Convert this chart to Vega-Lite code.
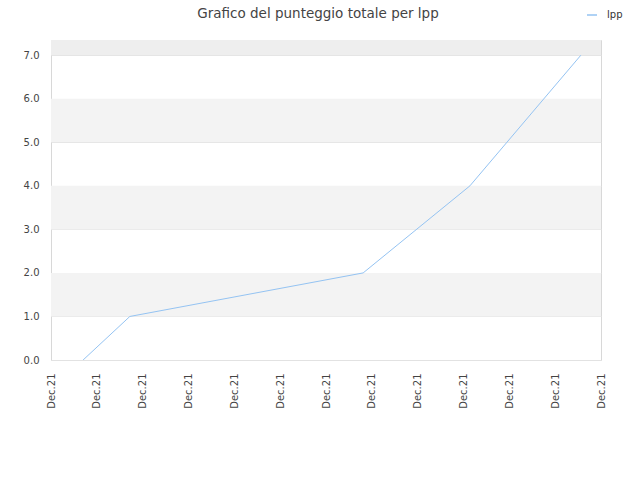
{
  "$schema": "https://vega.github.io/schema/vega-lite/v6.json",
  "autosize": "none",
  "width": 550,
  "height": 320,
  "padding": {"left": 51, "top": 40, "right": 39, "bottom": 120},
  "background": "#ffffff",
  "title": {
    "text": "Grafico del punteggio totale per lpp",
    "font": "DejaVu Sans",
    "fontSize": 13.5,
    "fontWeight": "normal",
    "color": "#444444",
    "anchor": "middle",
    "dx": -8,
    "offset": 0,
    "dy": 11
  },
  "datasets": {
    "bands": [
      {"lo": 1, "hi": 2, "shade": "a"},
      {"lo": 3, "hi": 4, "shade": "a"},
      {"lo": 5, "hi": 6, "shade": "a"},
      {"lo": 7, "hi": 7.35, "shade": "b"}
    ],
    "scores": [
      {"t": 0.7, "punti": 0, "serie": "lpp"},
      {"t": 1.72, "punti": 1, "serie": "lpp"},
      {"t": 6.81, "punti": 2, "serie": "lpp"},
      {"t": 9.14, "punti": 4, "serie": "lpp"},
      {"t": 11.56, "punti": 7, "serie": "lpp"}
    ]
  },
  "layer": [
    {
      "data": {"name": "bands"},
      "mark": {"type": "rect", "clip": true},
      "encoding": {
        "y": {"field": "lo", "type": "quantitative", "scale": {"domain": [0, 7.35], "nice": false}},
        "y2": {"field": "hi"},
        "color": {
          "field": "shade",
          "type": "nominal",
          "scale": {"domain": ["a", "b"], "range": ["#f3f3f3", "#eeeeee"]},
          "legend": null
        }
      }
    },
    {
      "data": {"name": "scores"},
      "mark": {"type": "line", "strokeWidth": 1, "clip": true},
      "encoding": {
        "x": {
          "field": "t",
          "type": "quantitative",
          "scale": {"domain": [0, 12], "nice": false},
          "title": null,
          "axis": {
            "values": [0, 1, 2, 3, 4, 5, 6, 7, 8, 9, 10, 11, 12],
            "labelExpr": "'Dec.21'",
            "labelAngle": -90,
            "labelAlign": "right",
            "labelBaseline": "middle",
            "labelPadding": 13,
            "labelFont": "DejaVu Sans",
            "labelFontSize": 10,
            "labelColor": "#444444",
            "ticks": false,
            "domain": false,
            "grid": false,
            "labelOverlap": false
          }
        },
        "y": {
          "field": "punti",
          "type": "quantitative",
          "scale": {"domain": [0, 7.35], "nice": false},
          "title": null,
          "axis": {
            "values": [0, 1, 2, 3, 4, 5, 6, 7],
            "format": ".1f",
            "labelPadding": 12,
            "labelFont": "DejaVu Sans",
            "labelFontSize": 10,
            "labelColor": "#444444",
            "ticks": false,
            "domain": false,
            "grid": true,
            "gridColor": "#e2e2e2",
            "gridOpacity": 1
          }
        },
        "stroke": {
          "field": "serie",
          "type": "nominal",
          "scale": {"range": ["#94c3f2"]},
          "legend": {
            "title": null,
            "orient": "none",
            "legendX": 535,
            "legendY": -31,
            "symbolType": "stroke",
            "symbolSize": 100,
            "symbolStrokeWidth": 1.5,
            "labelOffset": 9,
            "labelFont": "DejaVu Sans",
            "labelFontSize": 10,
            "labelColor": "#333333"
          }
        }
      }
    }
  ],
  "config": {
    "view": {"stroke": "#d8d8d8", "strokeWidth": 1}
  }
}
